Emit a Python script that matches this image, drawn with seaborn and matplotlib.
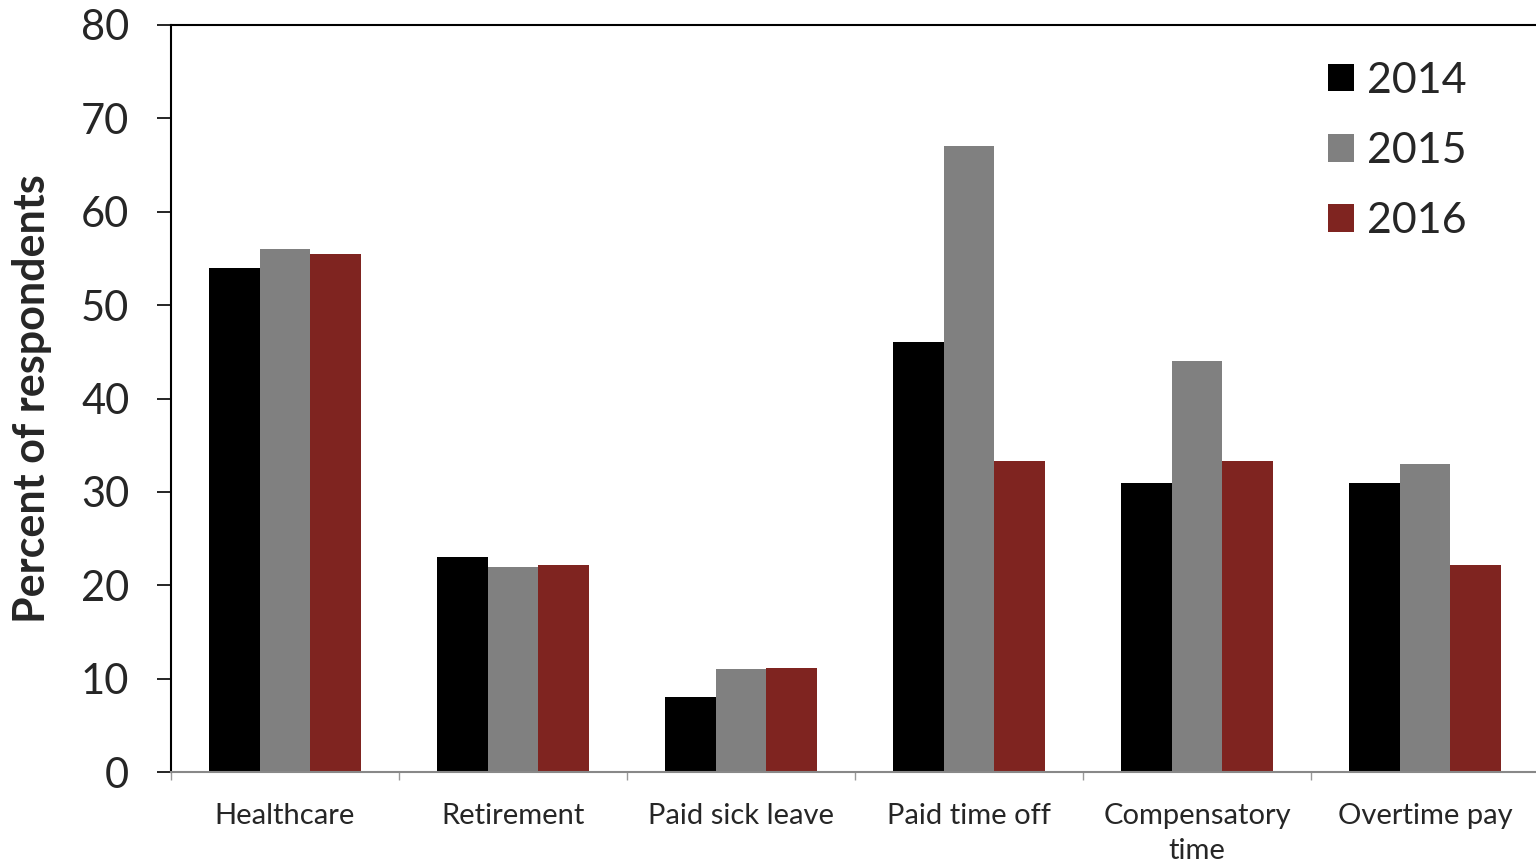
import numpy as np
import pandas as pd
import seaborn as sns
import matplotlib.pyplot as plt

categories = ["Healthcare", "Retirement", "Paid sick leave", "Paid time off",
              "Compensatory\ntime", "Overtime pay"]
years = ["2014", "2015", "2016"]
vals_2014 = [54, 23, 8, 46, 31, 31]
vals_2015 = [56, 22, 11, 67, 44, 33]
vals_2016 = [55.5, 22.2, 11.1, 33.3, 33.3, 22.2]
colors = ["#000000", "#808080", "#7f2420"]

df = pd.DataFrame({
    "category": categories * 3,
    "year": np.repeat(years, len(categories)),
    "value": vals_2014 + vals_2015 + vals_2016,
})

sns.set_style("white")
plt.rcParams["font.family"] = ["Lato", "DejaVu Sans"]

fig = plt.figure(figsize=(15.36, 8.66), dpi=100)
ax = fig.add_axes([171 / 1536, 94 / 866, 1368 / 1536, 747 / 866])

sns.barplot(data=df, x="category", y="value", hue="year", palette=colors,
            width=0.667, gap=0, saturation=1, linewidth=0, ax=ax)

ax.set_xlim(-0.5, 5.5)
ax.set_ylim(0, 80)
ax.set_yticks(range(0, 81, 10))
ax.tick_params(axis="y", direction="out", length=10, width=1.2, color="black",
               labelsize=30, pad=20, left=True)
ax.set_xticks(np.arange(-0.5, 6, 1), minor=True)
ax.tick_params(axis="x", which="major", length=0, labelsize=21, pad=22)
ax.tick_params(axis="x", which="minor", length=6, width=1, color="#999999",
               direction="out", bottom=True)
for lbl in ax.get_xticklabels():
    lbl.set_linespacing(1.45)
ax.set_xlabel("")
ax.set_ylabel("Percent of respondents", fontsize=31, fontweight="bold")
ax.yaxis.set_label_coords(-0.087, 0.5)

for s in ["top", "left"]:
    ax.spines[s].set_color("black")
    ax.spines[s].set_linewidth(1.5)
ax.spines["right"].set_visible(False)
ax.spines["bottom"].set_color("#888888")
ax.spines["bottom"].set_linewidth(1.5)

leg = ax.legend(loc="upper right", bbox_to_anchor=(1505 / 1536, 843 / 866),
                bbox_transform=fig.transFigure, frameon=False, fontsize=31,
                handlelength=0.6, handleheight=0.6, handletextpad=0.3,
                labelspacing=0.75, title=None)

fig.savefig("out.png", dpi=100)
